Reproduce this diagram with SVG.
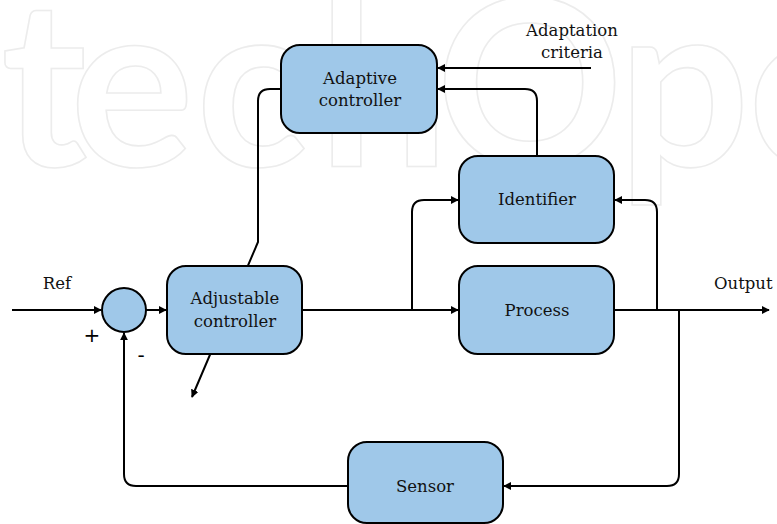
<svg xmlns="http://www.w3.org/2000/svg" width="777" height="524" viewBox="0 0 777 524">
  <defs>
    <marker id="arrow" viewBox="0 0 10 10" refX="9" refY="5" markerWidth="8" markerHeight="8" markerUnits="userSpaceOnUse" orient="auto">
      <path d="M0,0 L10,5 L0,10 Z" fill="#000"/>
    </marker>
    <style>
      .box { fill: #9fc8e9; stroke: #000; stroke-width: 2; }
      .wire { fill: none; stroke: #000; stroke-width: 2; }
      .lbl { font-family: "DejaVu Serif", "Liberation Serif", serif; font-size: 16.5px; fill: #111; text-anchor: middle; }
      .sign { font-family: "DejaVu Sans", "Liberation Sans", sans-serif; font-size: 20px; fill: #000; text-anchor: middle; }
      .mark { font-family: Lato, "DejaVu Sans", sans-serif; font-weight: 700; font-size: 232px; fill: none; stroke: #ececec; stroke-width: 1.6; }
    </style>
  </defs>

  <rect width="777" height="524" fill="#fff"/>

  <!-- background wordmark -->
  <text class="mark" y="166" x="-300 -160 1 70 196 318 436 618 748 880">IntechOpen</text>

  <!-- connectors -->
  <g id="connectors">
    <path class="wire" d="M12,310 H101" marker-end="url(#arrow)"/>
    <path class="wire" d="M146,310 H166" marker-end="url(#arrow)"/>
    <path class="wire" d="M302,310 H458" marker-end="url(#arrow)"/>
    <path class="wire" d="M412,310 V212 Q412,200 424,200 H458" marker-end="url(#arrow)"/>
    <path class="wire" d="M614,310 H769" marker-end="url(#arrow)"/>
    <path class="wire" d="M657,310 V212 Q657,200 645,200 H615" marker-end="url(#arrow)"/>
    <path class="wire" d="M679,310 V474 Q679,486 667,486 H504" marker-end="url(#arrow)"/>
    <path class="wire" d="M348,486 H136 Q124,486 124,474 V333" marker-end="url(#arrow)"/>
    <path class="wire" d="M537,156 V101 Q537,89 525,89 H438" marker-end="url(#arrow)"/>
    <path class="wire" d="M591,68 H438" marker-end="url(#arrow)"/>
    <path class="wire" d="M281,89 H270 Q258,89 258,101 V242 L192,397" marker-end="url(#arrow)"/>
  </g>

  <!-- nodes -->
  <g id="adaptive-controller">
    <rect class="box" x="281" y="45" width="156" height="88" rx="19"/>
    <text class="lbl" x="360" y="84">Adaptive</text>
    <text class="lbl" x="360" y="106">controller</text>
  </g>

  <g id="summing-junction">
    <circle class="box" cx="124" cy="310" r="22"/>
  </g>

  <g id="adjustable-controller">
    <rect class="box" x="167" y="266" width="135" height="88" rx="19"/>
    <text class="lbl" x="235" y="304">Adjustable</text>
    <text class="lbl" x="235" y="327">controller</text>
  </g>

  <g id="identifier">
    <rect class="box" x="459" y="156" width="155" height="87" rx="19"/>
    <text class="lbl" x="537" y="205">Identifier</text>
  </g>

  <g id="process">
    <rect class="box" x="459" y="266" width="155" height="88" rx="19"/>
    <text class="lbl" x="537" y="316">Process</text>
  </g>

  <g id="sensor">
    <rect class="box" x="348" y="442" width="155" height="81" rx="19"/>
    <text class="lbl" x="425" y="492">Sensor</text>
  </g>

  <!-- free labels -->
  <g id="labels">
    <text class="lbl" x="57" y="289">Ref</text>
    <text class="lbl" x="572" y="36">Adaptation</text>
    <text class="lbl" x="572" y="58">criteria</text>
    <text class="lbl" x="714" y="289" style="text-anchor:start">Output</text>
    <text class="sign" x="92" y="342">+</text>
    <text class="sign" x="141" y="362">-</text>
  </g>
</svg>
